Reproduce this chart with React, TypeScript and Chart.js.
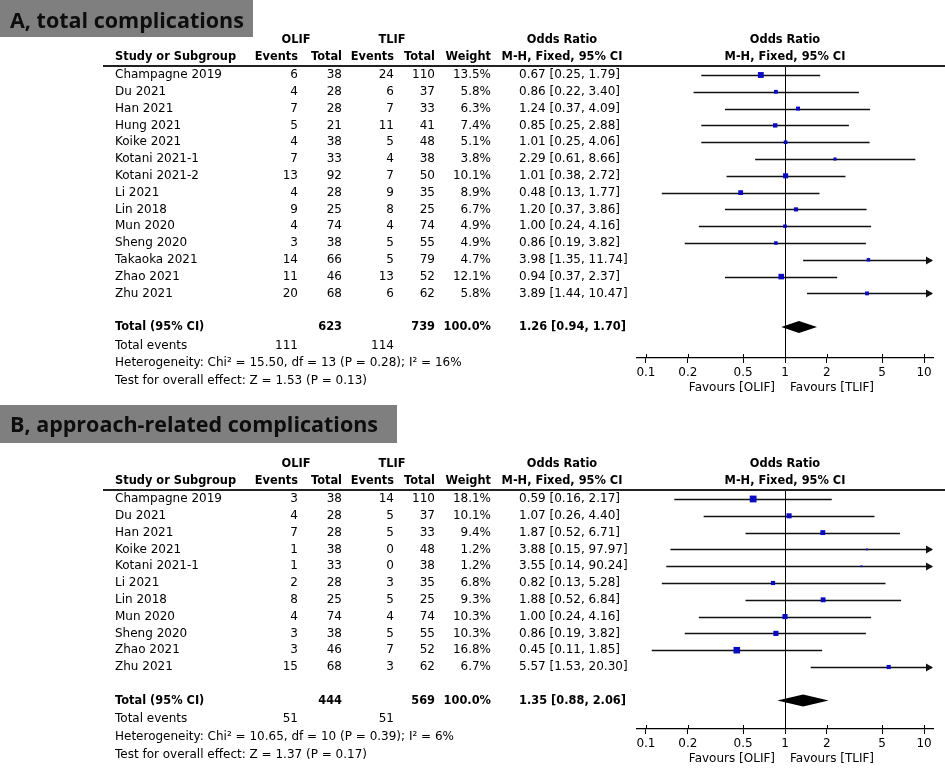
import React, { useEffect, useRef } from 'react';
import { Chart, registerables } from 'chart.js';

Chart.register(...registerables);

// ===== Panel A: total complications =====
const A_TITLE = 'A, total complications';
const A_STUDIES = ['Champagne 2019', 'Du 2021', 'Han 2021', 'Hung 2021', 'Koike 2021', 'Kotani 2021-1', 'Kotani 2021-2', 'Li 2021', 'Lin 2018', 'Mun 2020', 'Sheng 2020', 'Takaoka 2021', 'Zhao 2021', 'Zhu 2021'];
const A_OLIF_EVENTS = [6, 4, 7, 5, 4, 7, 13, 4, 9, 4, 3, 14, 11, 20];
const A_OLIF_TOTAL = [38, 28, 28, 21, 38, 33, 92, 28, 25, 74, 38, 66, 46, 68];
const A_TLIF_EVENTS = [24, 6, 7, 11, 5, 4, 7, 9, 8, 4, 5, 5, 13, 6];
const A_TLIF_TOTAL = [110, 37, 33, 41, 48, 38, 50, 35, 25, 74, 55, 79, 52, 62];
const A_WEIGHT = [13.5, 5.8, 6.3, 7.4, 5.1, 3.8, 10.1, 8.9, 6.7, 4.9, 4.9, 4.7, 12.1, 5.8];
const A_OR = [0.67, 0.86, 1.24, 0.85, 1.01, 2.29, 1.01, 0.48, 1.2, 1.0, 0.86, 3.98, 0.94, 3.89];
const A_LOW = [0.25, 0.22, 0.37, 0.25, 0.25, 0.61, 0.38, 0.13, 0.37, 0.24, 0.19, 1.35, 0.37, 1.44];
const A_HIGH = [1.79, 3.4, 4.09, 2.88, 4.06, 8.66, 2.72, 1.77, 3.86, 4.16, 3.82, 11.74, 2.37, 10.47];
const A_TOTAL_N = [623, 739];
const A_TOTAL_EVENTS = [111, 114];
const A_POOLED = [1.26, 0.94, 1.7];
const A_HETEROGENEITY = 'Heterogeneity: Chi² = 15.50, df = 13 (P = 0.28); I² = 16%';
const A_OVERALL = 'Test for overall effect: Z = 1.53 (P = 0.13)';

// ===== Panel B: approach-related complications =====
const B_TITLE = 'B, approach-related complications';
const B_STUDIES = ['Champagne 2019', 'Du 2021', 'Han 2021', 'Koike 2021', 'Kotani 2021-1', 'Li 2021', 'Lin 2018', 'Mun 2020', 'Sheng 2020', 'Zhao 2021', 'Zhu 2021'];
const B_OLIF_EVENTS = [3, 4, 7, 1, 1, 2, 8, 4, 3, 3, 15];
const B_OLIF_TOTAL = [38, 28, 28, 38, 33, 28, 25, 74, 38, 46, 68];
const B_TLIF_EVENTS = [14, 5, 5, 0, 0, 3, 5, 4, 5, 7, 3];
const B_TLIF_TOTAL = [110, 37, 33, 48, 38, 35, 25, 74, 55, 52, 62];
const B_WEIGHT = [18.1, 10.1, 9.4, 1.2, 1.2, 6.8, 9.3, 10.3, 10.3, 16.8, 6.7];
const B_OR = [0.59, 1.07, 1.87, 3.88, 3.55, 0.82, 1.88, 1.0, 0.86, 0.45, 5.57];
const B_LOW = [0.16, 0.26, 0.52, 0.15, 0.14, 0.13, 0.52, 0.24, 0.19, 0.11, 1.53];
const B_HIGH = [2.17, 4.4, 6.71, 97.97, 90.24, 5.28, 6.84, 4.16, 3.82, 1.85, 20.3];
const B_TOTAL_N = [444, 569];
const B_TOTAL_EVENTS = [51, 51];
const B_POOLED = [1.35, 0.88, 2.06];
const B_HETEROGENEITY = 'Heterogeneity: Chi² = 10.65, df = 10 (P = 0.39); I² = 6%';
const B_OVERALL = 'Test for overall effect: Z = 1.37 (P = 0.17)';

// ===== Shared axis =====
const AXIS_TICKS = [0.1, 0.2, 0.5, 1, 2, 5, 10];
const AXIS_MIN = 0.0862;
const AXIS_MAX = 11.6;
const FAVOURS = ['Favours [OLIF]', 'Favours [TLIF]'];

// ===== Layout / style =====
const W = 945;
const FONT = '"DejaVu Sans", sans-serif';
const FS = 12;
const FS_BOLD = 11.4;
const TITLE_FONT = '"Open Sans", "Noto Sans", sans-serif';
const COL = { name: 115, oe: 298, ot: 342, te: 394, tt: 435, w: 491, orLeft: 519, olifHead: 296, tlifHead: 392, orHead: 562 };
const PLOT_LEFT = 637;
const PLOT_RIGHT = 933;
const ROW_STEP = 16.8;
const FIRST_ROW_OFFSET = 9;
const FOOTER_ROWS = [1.1, 2.15, 3.22];
const X_SCALE_H = 30;
const MARK_COLOR = '#0a0ac0';

type PanelCfg = {
  title: string;
  names: string[];
  oe: number[];
  ot: number[];
  te: number[];
  tt: number[];
  weight: number[];
  or: number[];
  low: number[];
  high: number[];
  totalN: number[];
  totalEvents: number[];
  pooled: number[];
  het: string;
  overall: string;
  height: number;
  headerLineY: number;
  axisY: number;
  titleBox: { x: number; y: number; w: number; h: number; baseline: number; size: number };
};

const PANEL_A: PanelCfg = {
  title: A_TITLE, names: A_STUDIES, oe: A_OLIF_EVENTS, ot: A_OLIF_TOTAL, te: A_TLIF_EVENTS, tt: A_TLIF_TOTAL,
  weight: A_WEIGHT, or: A_OR, low: A_LOW, high: A_HIGH, totalN: A_TOTAL_N, totalEvents: A_TOTAL_EVENTS,
  pooled: A_POOLED, het: A_HETEROGENEITY, overall: A_OVERALL,
  height: 400, headerLineY: 66, axisY: 358,
  titleBox: { x: 0, y: 0, w: 253, h: 37, baseline: 28, size: 21.5 },
};

const PANEL_B: PanelCfg = {
  title: B_TITLE, names: B_STUDIES, oe: B_OLIF_EVENTS, ot: B_OLIF_TOTAL, te: B_TLIF_EVENTS, tt: B_TLIF_TOTAL,
  weight: B_WEIGHT, or: B_OR, low: B_LOW, high: B_HIGH, totalN: B_TOTAL_N, totalEvents: B_TOTAL_EVENTS,
  pooled: B_POOLED, het: B_HETEROGENEITY, overall: B_OVERALL,
  height: 368, headerLineY: 90, axisY: 329,
  titleBox: { x: 0, y: 5, w: 397, h: 38, baseline: 32, size: 21.5 },
};

function ForestPanel({ cfg }: { cfg: PanelCfg }) {
  const ref = useRef<HTMLCanvasElement | null>(null);

  useEffect(() => {
    const canvas = ref.current;
    if (!canvas) return;
    const n = cfg.names.length;
    const totalRow = n + 1;
    const yMin = -FIRST_ROW_OFFSET / ROW_STEP;
    const yMax = (cfg.axisY - cfg.headerLineY - FIRST_ROW_OFFSET) / ROW_STEP;
    const tMin = AXIS_TICKS[0];
    const tMax = AXIS_TICKS[AXIS_TICKS.length - 1];

    const forest = {
      id: 'forest',
      beforeDatasetsDraw(chart: any) {
        const { ctx, chartArea, scales } = chart;
        const x = scales.x;
        const y = scales.y;
        ctx.save();
        const x1 = Math.round(x.getPixelForValue(1)) + 0.5;
        ctx.strokeStyle = '#000';
        ctx.lineWidth = 1;
        ctx.beginPath();
        ctx.moveTo(x1, chartArea.top);
        ctx.lineTo(x1, chartArea.bottom);
        ctx.stroke();

        ctx.strokeStyle = '#111';
        ctx.fillStyle = '#111';
        ctx.lineWidth = 1.3;
        for (let i = 0; i < n; i++) {
          const yy = Math.round(y.getPixelForValue(i)) + 0.5;
          const arrowL = cfg.low[i] < tMin;
          const arrowR = cfg.high[i] > tMax;
          const xa = arrowL ? chartArea.left + 1 : x.getPixelForValue(cfg.low[i]);
          const xb = arrowR ? chartArea.right - 1 : x.getPixelForValue(cfg.high[i]);
          ctx.beginPath();
          ctx.moveTo(xa, yy);
          ctx.lineTo(xb, yy);
          ctx.stroke();
          if (arrowR) {
            ctx.beginPath();
            ctx.moveTo(xb + 1, yy);
            ctx.lineTo(xb - 6, yy - 4);
            ctx.lineTo(xb - 6, yy + 4);
            ctx.closePath();
            ctx.fill();
          }
          if (arrowL) {
            ctx.beginPath();
            ctx.moveTo(xa - 1, yy);
            ctx.lineTo(xa + 6, yy - 4);
            ctx.lineTo(xa + 6, yy + 4);
            ctx.closePath();
            ctx.fill();
          }
        }
        ctx.restore();
      },
      afterDatasetsDraw(chart: any) {
        const { ctx, scales } = chart;
        const x = scales.x;
        const y = scales.y;
        const yy = y.getPixelForValue(totalRow);
        ctx.save();
        ctx.fillStyle = '#000';
        ctx.beginPath();
        ctx.moveTo(x.getPixelForValue(cfg.pooled[1]), yy);
        ctx.lineTo(x.getPixelForValue(cfg.pooled[0]), yy - 6);
        ctx.lineTo(x.getPixelForValue(cfg.pooled[2]), yy);
        ctx.lineTo(x.getPixelForValue(cfg.pooled[0]), yy + 6);
        ctx.closePath();
        ctx.fill();
        ctx.restore();
      },
      afterDraw(chart: any) {
        const { ctx, chartArea, scales } = chart;
        const x = scales.x;
        const y = scales.y;
        ctx.save();
        ctx.fillStyle = '#000';
        ctx.textBaseline = 'middle';
        const txt = (s: string, px: number, py: number, align: CanvasTextAlign, bold = false) => {
          ctx.font = bold ? `bold ${FS_BOLD}px ${FONT}` : `${FS}px ${FONT}`;
          ctx.textAlign = align;
          ctx.fillText(s, px, py);
        };

        // title box
        const tb = cfg.titleBox;
        ctx.fillStyle = '#7f7f7f';
        ctx.fillRect(tb.x, tb.y, tb.w, tb.h);
        ctx.fillStyle = '#0d0d0d';
        ctx.font = `bold ${tb.size}px ${TITLE_FONT}`;
        ctx.textAlign = 'left';
        ctx.textBaseline = 'alphabetic';
        ctx.fillText(cfg.title, tb.x + 10, tb.baseline);
        ctx.textBaseline = 'middle';
        ctx.fillStyle = '#000';

        // header
        const h1 = chartArea.top - 26;
        const h2 = chartArea.top - 9;
        const plotMid = (PLOT_LEFT + PLOT_RIGHT) / 2;
        txt('OLIF', COL.olifHead, h1, 'center', true);
        txt('TLIF', COL.tlifHead, h1, 'center', true);
        txt('Odds Ratio', COL.orHead, h1, 'center', true);
        txt('Odds Ratio', plotMid, h1, 'center', true);
        txt('Study or Subgroup', COL.name, h2, 'left', true);
        txt('Events', COL.oe, h2, 'right', true);
        txt('Total', COL.ot, h2, 'right', true);
        txt('Events', COL.te, h2, 'right', true);
        txt('Total', COL.tt, h2, 'right', true);
        txt('Weight', COL.w, h2, 'right', true);
        txt('M-H, Fixed, 95% CI', COL.orHead, h2, 'center', true);
        txt('M-H, Fixed, 95% CI', plotMid, h2, 'center', true);

        ctx.strokeStyle = '#222';
        ctx.lineWidth = 2;
        ctx.beginPath();
        ctx.moveTo(103, chartArea.top);
        ctx.lineTo(W, chartArea.top);
        ctx.stroke();

        // study rows
        for (let i = 0; i < n; i++) {
          const yy = y.getPixelForValue(i);
          txt(cfg.names[i], COL.name, yy, 'left');
          txt(String(cfg.oe[i]), COL.oe, yy, 'right');
          txt(String(cfg.ot[i]), COL.ot, yy, 'right');
          txt(String(cfg.te[i]), COL.te, yy, 'right');
          txt(String(cfg.tt[i]), COL.tt, yy, 'right');
          txt(cfg.weight[i].toFixed(1) + '%', COL.w, yy, 'right');
          txt(`${cfg.or[i].toFixed(2)} [${cfg.low[i].toFixed(2)}, ${cfg.high[i].toFixed(2)}]`, COL.orLeft, yy, 'left');
        }

        // totals
        const yt = y.getPixelForValue(totalRow);
        txt('Total (95% CI)', COL.name, yt, 'left', true);
        txt(String(cfg.totalN[0]), COL.ot, yt, 'right', true);
        txt(String(cfg.totalN[1]), COL.tt, yt, 'right', true);
        txt('100.0%', COL.w, yt, 'right', true);
        txt(`${cfg.pooled[0].toFixed(2)} [${cfg.pooled[1].toFixed(2)}, ${cfg.pooled[2].toFixed(2)}]`, COL.orLeft, yt, 'left', true);
        const ye = y.getPixelForValue(totalRow + FOOTER_ROWS[0]);
        txt('Total events', COL.name, ye, 'left');
        txt(String(cfg.totalEvents[0]), COL.oe, ye, 'right');
        txt(String(cfg.totalEvents[1]), COL.te, ye, 'right');
        txt(cfg.het, COL.name, y.getPixelForValue(totalRow + FOOTER_ROWS[1]), 'left');
        txt(cfg.overall, COL.name, y.getPixelForValue(totalRow + FOOTER_ROWS[2]), 'left');

        // upper halves of axis tick marks
        ctx.strokeStyle = '#000';
        ctx.lineWidth = 1;
        for (const t of AXIS_TICKS) {
          const px = Math.round(x.getPixelForValue(t)) + 0.5;
          ctx.beginPath();
          ctx.moveTo(px, chartArea.bottom - 4);
          ctx.lineTo(px, chartArea.bottom);
          ctx.stroke();
        }

        // favours labels
        const x1 = x.getPixelForValue(1);
        const yf = chartArea.bottom + 30;
        txt(FAVOURS[0], x1 - 10, yf, 'right');
        txt(FAVOURS[1], x1 + 5, yf, 'left');
        ctx.restore();
      },
    };

    const chart = new Chart(canvas, {
      type: 'scatter',
      data: {
        datasets: [
          {
            data: cfg.or.map((v, i) => ({ x: v, y: i })),
            pointStyle: 'rect',
            pointRadius: cfg.weight.map((w) => Math.max(1.3, 1.13 * Math.sqrt(w))),
            backgroundColor: MARK_COLOR,
            borderWidth: 0,
          },
        ],
      },
      options: {
        responsive: false,
        animation: false,
        events: [],
        layout: {
          padding: {
            left: PLOT_LEFT,
            right: W - PLOT_RIGHT,
            top: cfg.headerLineY,
            bottom: cfg.height - cfg.axisY - X_SCALE_H,
          },
        },
        plugins: { legend: { display: false }, tooltip: { enabled: false }, title: { display: false } },
        scales: {
          x: {
            type: 'logarithmic',
            position: 'bottom',
            min: AXIS_MIN,
            max: AXIS_MAX,
            bounds: 'data',
            afterBuildTicks: (s: any) => {
              s.ticks = AXIS_TICKS.map((v) => ({ value: v }));
            },
            afterFit: (s: any) => {
              s.height = X_SCALE_H;
            },
            grid: { display: true, drawOnChartArea: false, drawTicks: true, tickLength: 5, color: '#000', lineWidth: 1 },
            border: { display: true, color: '#000', width: 1.2 },
            ticks: {
              autoSkip: false,
              maxRotation: 0,
              minRotation: 0,
              padding: 3,
              color: '#000',
              font: { family: 'DejaVu Sans', size: FS },
              callback: (v: any) => String(v),
            },
          },
          y: {
            type: 'linear',
            display: false,
            reverse: true,
            min: yMin,
            max: yMax,
          },
        },
      } as any,
      plugins: [forest],
    });
    return () => chart.destroy();
  }, [cfg]);

  return <canvas ref={ref} width={W} height={cfg.height} style={{ display: 'block', width: W, height: cfg.height }} />;
}

export default function App() {
  useEffect(() => {
    document.body.style.margin = '0';
    document.body.style.background = '#fff';
  }, []);
  return (
    <div style={{ width: W, height: 768, background: '#fff', overflow: 'hidden' }}>
      <ForestPanel cfg={PANEL_A} />
      <ForestPanel cfg={PANEL_B} />
    </div>
  );
}
